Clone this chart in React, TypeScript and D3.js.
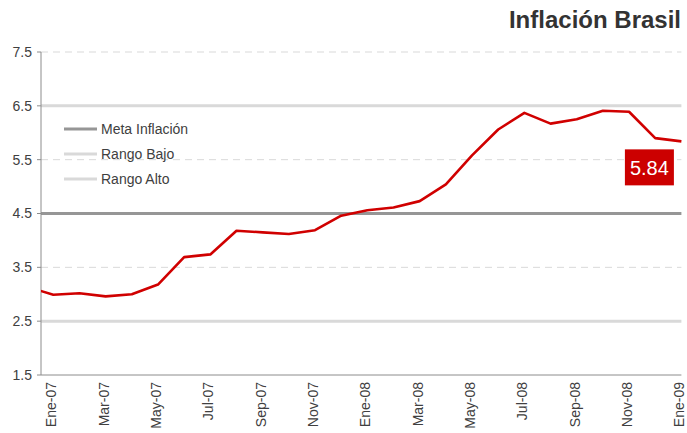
import React from "react";
import * as d3 from "d3";

// Monthly 12-month inflation (IPCA), Dic-06 .. Ene-09
const months = [
  "Dic-06",
  "Ene-07", "Feb-07", "Mar-07", "Abr-07", "May-07", "Jun-07", "Jul-07", "Ago-07", "Sep-07", "Oct-07", "Nov-07", "Dic-07",
  "Ene-08", "Feb-08", "Mar-08", "Abr-08", "May-08", "Jun-08", "Jul-08", "Ago-08", "Sep-08", "Oct-08", "Nov-08", "Dic-08",
  "Ene-09",
];
const inflation = [
  3.14,
  2.99, 3.02, 2.96, 3.0, 3.18, 3.69, 3.74, 4.18, 4.15, 4.12, 4.19, 4.46,
  4.56, 4.61, 4.73, 5.04, 5.58, 6.06, 6.37, 6.17, 6.25, 6.41, 6.39, 5.9,
  5.84,
];
const tickLabels = [
  "Ene-07", "Mar-07", "May-07", "Jul-07", "Sep-07", "Nov-07",
  "Ene-08", "Mar-08", "May-08", "Jul-08", "Sep-08", "Nov-08", "Ene-09",
];
const yTicks = [1.5, 2.5, 3.5, 4.5, 5.5, 6.5, 7.5];
const metaInflacion = 4.5;
const rangoBajo = 2.5;
const rangoAlto = 6.5;
const lastLabel = "5.84";
const title = "Inflación Brasil";
const legendItems = ["Meta Inflación", "Rango Bajo", "Rango Alto"];

const W = 687;
const H = 433;
const left = 41;
const right = 681.4;
const top = 52;
const bottom = 375;
const FONT = "'Liberation Sans', Arial, sans-serif";

export default function App() {
  // month index: Dic-06 = -1, Ene-07 = 0 ... Ene-09 = 24
  const x = d3.scaleLinear().domain([-0.47, 24]).range([left, right]);
  const y = d3.scaleLinear().domain([1.5, 7.5]).range([bottom, top]);
  const idx = (i: number) => i - 1;

  const line = d3
    .line<number>()
    .x((_, i) => x(idx(i)))
    .y((d) => y(d));

  const solidLines = [
    { v: rangoAlto, color: "#d9d9d9" },
    { v: rangoBajo, color: "#d9d9d9" },
    { v: metaInflacion, color: "#969696" },
  ];
  const legendColors = ["#969696", "#d9d9d9", "#d9d9d9"];

  const lastV = inflation[inflation.length - 1];
  const boxCx = x(24) - 32;
  const boxCy = y(lastV) + 26;

  return (
    <svg
      width={W}
      height={H}
      style={{ position: "absolute", left: 0, top: 0, background: "#fff" }}
      fontFamily={FONT}
    >
      <defs>
        <clipPath id="plot">
          <rect x={left} y={0} width={right - left + 5} height={bottom} />
        </clipPath>
      </defs>
      <text x={681} y={28} textAnchor="end" fontSize={24} fontWeight="bold" fill="#333">
        {title}
      </text>

      {/* dashed gridlines */}
      {yTicks
        .filter((v) => v !== 1.5 && v !== metaInflacion && v !== rangoBajo && v !== rangoAlto)
        .map((v) => (
          <line
            key={v}
            x1={left}
            x2={right}
            y1={y(v)}
            y2={y(v)}
            stroke="#d9d9d9"
            strokeWidth={1}
            strokeDasharray="7,5"
          />
        ))}
      {solidLines.map((s) => (
        <line key={s.v} x1={left} x2={right} y1={y(s.v)} y2={y(s.v)} stroke={s.color} strokeWidth={3} />
      ))}

      {/* axes */}
      <line x1={left} x2={left} y1={top} y2={bottom} stroke="#8c8c8c" strokeWidth={1} />
      <line x1={left} x2={right} y1={bottom} y2={bottom} stroke="#8c8c8c" strokeWidth={1} />
      {yTicks.map((v) => (
        <g key={v}>
          <line x1={left - 4} x2={left} y1={y(v)} y2={y(v)} stroke="#8c8c8c" />
          <text x={32} y={y(v)} dy="0.35em" textAnchor="end" fontSize={14} fill="#404040">
            {v.toFixed(1)}
          </text>
        </g>
      ))}
      {tickLabels.map((t) => {
        const i = months.indexOf(t);
        const tx = x(idx(i)) - 2;
        return (
          <text
            key={t}
            transform={`translate(${tx},${382}) rotate(-90)`}
            textAnchor="end"
            dy="0.35em"
            fontSize={14}
            fill="#404040"
          >
            {t}
          </text>
        );
      })}

      {/* legend */}
      {legendItems.map((t, i) => (
        <g key={t}>
          <line x1={64} x2={97} y1={129 + i * 25} y2={129 + i * 25} stroke={legendColors[i]} strokeWidth={3} />
          <text x={101} y={129 + i * 25} dy="0.35em" fontSize={14} fill="#404040">
            {t}
          </text>
        </g>
      ))}

      {/* data line */}
      <path
        d={line(inflation) || ""}
        fill="none"
        stroke="#d00000"
        strokeWidth={2.6}
        strokeLinejoin="round"
        clipPath="url(#plot)"
      />

      {/* last value label */}
      <rect x={boxCx - 24.5} y={boxCy - 18} width={49} height={36} fill="#cc0000" />
      <text x={boxCx} y={boxCy} dy="0.36em" textAnchor="middle" fontSize={20} fill="#fff">
        {lastLabel}
      </text>
    </svg>
  );
}
